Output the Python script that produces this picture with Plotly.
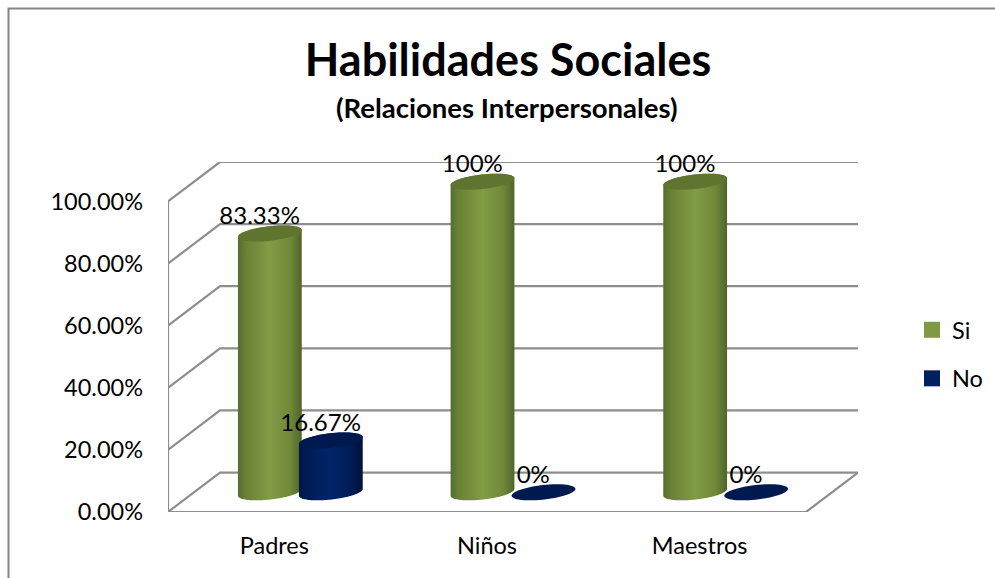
import numpy as np
import plotly.graph_objects as go

# Chart data
categories = ["Padres", "Niños", "Maestros"]
si_values = [83.33, 100, 100]
no_values = [16.67, 0, 0]
si_labels = ["83.33%", "100%", "100%"]
no_labels = ["16.67%", "0%", "0%"]
y_ticks = [0, 20, 40, 60, 80, 100]
y_tick_labels = ["0.00%", "20.00%", "40.00%", "60.00%", "80.00%", "100.00%"]

# Figure layout in pixels
WIDTH, HEIGHT = 995, 578
LEFT, RIGHT, TOP, BOTTOM = 168, 858, 162, 512
FONT = "Lato"
GRID = "#8e8e8e"

# Oblique projection of the depth axis, in axis units
DEPTH_X = 0.2445
DEPTH_Y = 12.7
x_range = [0, len(categories) + DEPTH_X]
y_range = [0, 100 + DEPTH_Y]

# Cylinder proportions, in axis units
RADIUS_X = 0.150
RADIUS_Y = 2.35
TILT = 1.1
SERIES_SHIFT = 0.1434
LABEL_DX = -0.048
LABEL_DY = 5.0

GREEN_SIDE = [[0, "#566d2f"], [0.12, "#688136"], [0.5, "#819c45"],
              [0.82, "#6f8939"], [1, "#4f6529"]]
BLUE_SIDE = [[0, "#001645"], [0.12, "#001c55"], [0.5, "#002468"],
             [0.82, "#001c55"], [1, "#00123a"]]
GREEN_TOP, BLUE_TOP = "#5f752f", "#001a4f"
GREEN_KEY, BLUE_KEY = "#7f9a42", "#002060"


def arc(cx, cy, start, stop):
    t = np.linspace(start, stop, 60)
    return cx + RADIUS_X * np.cos(t), cy + TILT * np.cos(t) + RADIUS_Y * np.sin(t)


fig = go.Figure()


def wall_line(xs, ys):
    fig.add_trace(go.Scatter(x=xs, y=ys, mode="lines", showlegend=False, hoverinfo="skip",
                             line=dict(color=GRID, width=2.2), cliponaxis=False))


# Side and back wall gridlines, floor edge and value axis
for v in y_ticks:
    wall_line([0, DEPTH_X, x_range[1]], [v, v + DEPTH_Y, v + DEPTH_Y])
wall_line([0, 0], [0, 100])
wall_line([0, len(categories), x_range[1]], [0, 0, DEPTH_Y])


def cylinder(center, value, side, top, name):
    cx = center + DEPTH_X / 2
    base = DEPTH_Y / 2
    if value > 0:
        bx, by = arc(cx, base, np.pi, 2 * np.pi)
        tx, ty = arc(cx, base + value, 0, np.pi)
        fig.add_trace(go.Scatter(
            x=np.r_[bx, tx], y=np.r_[by, ty], mode="none", fill="toself",
            fillgradient=dict(type="horizontal", colorscale=side,
                              start=cx - RADIUS_X, stop=cx + RADIUS_X),
            legendgroup=name, showlegend=False, hoverinfo="skip"))
    cap_x, cap_y = arc(cx, base + value, 0, 2 * np.pi)
    fig.add_trace(go.Scatter(x=cap_x, y=cap_y, mode="none", fill="toself", fillcolor=top,
                             legendgroup=name, showlegend=False, hoverinfo="skip"))


# Cylinders, one green and one blue per category; blue sits in front of green
for i in range(len(categories)):
    cylinder(i + 0.5 - SERIES_SHIFT, si_values[i], GREEN_SIDE, GREEN_TOP, "Si")
    cylinder(i + 0.5 + SERIES_SHIFT, no_values[i], BLUE_SIDE, BLUE_TOP, "No")

# Value labels above each cylinder
for sign, values, labels in ((-1, si_values, si_labels), (1, no_values, no_labels)):
    fig.add_trace(go.Scatter(
        x=[i + 0.5 + sign * SERIES_SHIFT + DEPTH_X / 2 + LABEL_DX for i in range(len(categories))],
        y=[v + DEPTH_Y / 2 + LABEL_DY for v in values],
        mode="text", text=labels, textposition="middle center",
        textfont=dict(family=FONT, size=24, color="#000000"),
        showlegend=False, hoverinfo="skip", cliponaxis=False))

# Legend keys
for name, color in (("Si", GREEN_KEY), ("No", BLUE_KEY)):
    fig.add_trace(go.Scatter(x=[None], y=[None], mode="markers", name=name, legendgroup=name,
                             marker=dict(symbol="square", size=16, color=color)))

plot_w, plot_h = RIGHT - LEFT, BOTTOM - TOP


def paper_x(px):
    return (px - LEFT) / plot_w


def paper_y(px):
    return (BOTTOM - px) / plot_h


fig.update_layout(
    width=WIDTH, height=HEIGHT,
    margin=dict(l=LEFT, r=WIDTH - RIGHT, t=TOP, b=HEIGHT - BOTTOM),
    paper_bgcolor="#ffffff", plot_bgcolor="rgba(0,0,0,0)",
    font=dict(family=FONT, size=24, color="#000000"),
    title=dict(text="<b>Habilidades Sociales</b>", font=dict(family=FONT, size=45),
               x=508 / WIDTH, xanchor="center", y=1 - 60 / HEIGHT, yanchor="middle"),
    xaxis=dict(range=x_range, tickmode="array", tickvals=[i + 0.5 for i in range(len(categories))],
               ticktext=categories, showgrid=False, zeroline=False, showline=False, ticks="",
               ticklabelstandoff=17, tickfont=dict(size=23.5)),
    yaxis=dict(range=y_range, tickmode="array", tickvals=y_ticks, ticktext=y_tick_labels,
               showgrid=False, zeroline=False, showline=False, ticks="",
               ticklabelstandoff=24, tickfont=dict(size=23.5)),
    legend=dict(xref="container", yref="container", x=(912) / WIDTH, xanchor="left",
                y=1 - 308 / HEIGHT, yanchor="top",
                bgcolor="rgba(0,0,0,0)", font=dict(family=FONT, size=23.5),
                tracegroupgap=15),
    annotations=[dict(text="<b>(Relaciones Interpersonales)</b>", xref="paper", yref="paper",
                      x=paper_x(507), y=paper_y(108), xanchor="center", yanchor="middle",
                      showarrow=False, font=dict(family=FONT, size=27.5))],
    shapes=[dict(type="path", xref="paper", yref="paper", layer="below",
                 path=f"M {paper_x(995)} {paper_y(8.5)} L {paper_x(8.5)} {paper_y(8.5)} "
                      f"L {paper_x(8.5)} {paper_y(578)}",
                 line=dict(color="#868686", width=2))],
)

fig.write_html("out.html")
